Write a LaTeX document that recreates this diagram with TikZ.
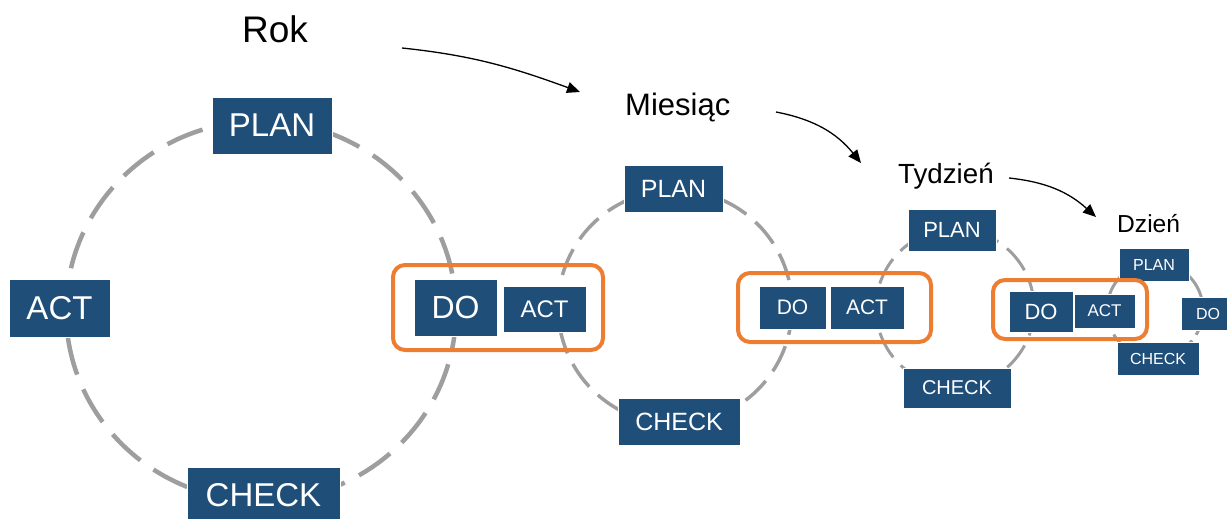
\documentclass[tikz,border=0pt]{standalone}
\usepackage{fontspec}
\setmainfont{Liberation Sans}
\usetikzlibrary{arrows.meta}
\definecolor{boxblue}{RGB}{31,78,121}
\definecolor{ringgray}{RGB}{158,158,158}
\definecolor{hlorange}{RGB}{237,125,49}
\newcommand{\pdsize}[1]{\fontsize{#1}{#1}\selectfont}
\tikzset{
  pdbox/.style={fill=boxblue, draw=white, line width=0.8pt, text=white,
    inner sep=0pt, anchor=center},
  ring/.style={draw=ringgray},
  hl/.style={draw=hlorange, line width=4pt, rounded corners=12pt},
  lbl/.style={inner sep=0pt, anchor=base west, text=black},
  flow/.style={draw=black, line width=1.3pt,
    -{Triangle[length=13pt,width=11pt]}}
}
\begin{document}
\begin{tikzpicture}[x=1pt,y=-1pt]
\useasboundingbox (0,0) rectangle (1227,519);
\clip (0,0) rectangle (1227,519);

% cycle rings (year, month, week, day)
\draw[ring, line width=4.5pt, dash pattern=on 38pt off 16pt] (261,311) ellipse [x radius=195, y radius=190];
\draw[ring, line width=3.5pt, dash pattern=on 28pt off 12pt] (675,307) circle [radius=117];
\draw[ring, line width=3pt, dash pattern=on 28pt off 11pt] (955,308) circle [radius=79];
\draw[ring, line width=3pt, dash pattern=on 26pt off 7pt] (1155,310) circle [radius=48];

% year
\node[pdbox, minimum width=120pt, minimum height=57pt, font=\pdsize{33}] (plan1) at (272,125.5) {PLAN};
\node[pdbox, minimum width=101pt, minimum height=58pt, font=\pdsize{33}] (actL) at (59.5,308) {ACT};
\node[pdbox, minimum width=153pt, minimum height=57pt, font=\pdsize{33}] (check1) at (263.5,495.5) {CHECK};
\node[pdbox, minimum width=83pt, minimum height=57pt, font=\pdsize{32}] (do1) at (455.5,307.5) {DO};
\node[pdbox, minimum width=83pt, minimum height=46pt, font=\pdsize{24}] (act1) at (544.5,309) {ACT};

% month
\node[pdbox, minimum width=99pt, minimum height=47pt, font=\pdsize{25}] (plan2) at (673.5,188.5) {PLAN};
\node[pdbox, minimum width=122pt, minimum height=47pt, font=\pdsize{25}] (check2) at (679,421.5) {CHECK};
\node[pdbox, minimum width=67pt, minimum height=43pt, font=\pdsize{21}] (do2) at (792.5,307.5) {DO};
\node[pdbox, minimum width=74pt, minimum height=43pt, font=\pdsize{21}] (act2) at (867,307.5) {ACT};

% week
\node[pdbox, minimum width=88pt, minimum height=42pt, font=\pdsize{22}] (plan3) at (952,230) {PLAN};
\node[pdbox, minimum width=108pt, minimum height=40pt, font=\pdsize{20}] (check3) at (957,388) {CHECK};
\node[pdbox, minimum width=64pt, minimum height=41pt, font=\pdsize{22}] (do3) at (1041,311.5) {DO};
\node[pdbox, minimum width=61pt, minimum height=34pt, font=\pdsize{17}] (act3) at (1104.5,311) {ACT};

% day
\node[pdbox, minimum width=70pt, minimum height=33pt, font=\pdsize{16}] (plan4) at (1154,264.5) {PLAN};
\node[pdbox, minimum width=54pt, minimum height=33pt, font=\pdsize{16}] (do4) at (1208,313.5) {DO};
\node[pdbox, minimum width=82pt, minimum height=33pt, font=\pdsize{16}] (check4) at (1158,358.5) {CHECK};

% highlighted DO/ACT pairs
\draw[hl] (393,265) rectangle (603,350);
\draw[hl] (738,273) rectangle (931,342);
\draw[hl] (993,280) rectangle (1147,339);

% time scale labels
\node[lbl, font=\pdsize{37}] (rok) at (242,43) {Rok};
\node[lbl, font=\pdsize{31}] (mies) at (625,116) {Miesiąc};
\node[lbl, font=\pdsize{27.7}] (tydz) at (898,183) {Tydzień};
\node[lbl, font=\pdsize{24.6}] (dzien) at (1117,232) {Dzień};

% arrows between scales
\coordinate (a1s) at (402,48);
\coordinate (a1e) at (580,92);
\coordinate (a2s) at (776,112);
\coordinate (a2e) at (861,163);
\coordinate (a3s) at (1009,178);
\coordinate (a3e) at (1096,217);
\draw[flow] (a1s) to[out=-6, in=160] (a1e);
\draw[flow] (a2s) to[bend left=20] (a2e);
\draw[flow] (a3s) to[bend left=18] (a3e);
\end{tikzpicture}
\end{document}
